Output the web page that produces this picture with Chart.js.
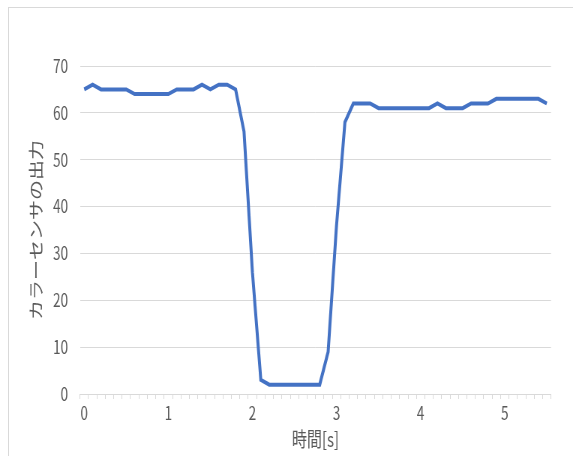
<!DOCTYPE html>
<html lang="ja">
<head>
  <meta charset="utf-8">
  <title>カラーセンサの出力</title>
  <style>
    body { margin: 0; background: #fff; overflow: hidden; }
    .frame { position: absolute; left: 8px; top: 7px; width: 700px; height: 600px; border: 1px solid #d9d9d9; }
    /* the original picture is squeezed sideways, so draw wide and squeeze */
    #chart { position: absolute; left: 0; top: 0; transform: scaleX(0.75); transform-origin: 0 0; }
  </style>
</head>
<body>
  <div class="frame"></div>
  <canvas id="chart" width="764" height="456"></canvas>

  <script src="https://cdn.jsdelivr.net/npm/chart.js"></script>
  <script>
    const times = [
      0, 0.1, 0.2, 0.3, 0.4, 0.5, 0.6, 0.7, 0.8, 0.9,
      1, 1.1, 1.2, 1.3, 1.4, 1.5, 1.6, 1.7, 1.8, 1.9,
      2, 2.1, 2.2, 2.3, 2.4, 2.5, 2.6, 2.7, 2.8, 2.9,
      3, 3.1, 3.2, 3.3, 3.4, 3.5, 3.6, 3.7, 3.8, 3.9,
      4, 4.1, 4.2, 4.3, 4.4, 4.5, 4.6, 4.7, 4.8, 4.9,
      5, 5.1, 5.2, 5.3, 5.4, 5.5
    ];
    const sensor = [
      65, 66, 65, 65, 65, 65, 64, 64, 64, 64,
      64, 65, 65, 65, 66, 65, 66, 66, 65, 56,
      26, 3, 2, 2, 2, 2, 2, 2, 2, 9,
      36, 58, 62, 62, 62, 61, 61, 61, 61, 61,
      61, 61, 62, 61, 61, 61, 62, 62, 62, 63,
      63, 63, 63, 63, 63, 62
    ];
    const yTitle = 'カラーセンサの出力';
    const xTitle = '時間[s]';

    const K = 0.75; // horizontal squeeze, see css
    const font = "'Noto Sans CJK JP', 'Noto Sans', sans-serif";
    const grey = '#595959';
    const lineGrey = '#d9d9d9';

    new Chart(document.getElementById('chart'), {
      type: 'line',
      data: {
        labels: times,
        datasets: [{
          data: sensor,
          borderColor: '#4472c4',
          borderWidth: 4,
          pointRadius: 0,
          tension: 0,
          fill: false
        }]
      },
      options: {
        responsive: false,
        animation: false,
        layout: { padding: { top: 66, right: 22 / K, left: 0, bottom: 0 } },
        plugins: { legend: { display: false }, tooltip: { enabled: false } },
        scales: {
          x: {
            type: 'category',
            offset: true,
            afterFit: (s) => { s.height = 62; },
            grid: { offset: true, drawOnChartArea: false, drawTicks: true, tickLength: 5, color: lineGrey },
            border: { display: true, color: lineGrey },
            ticks: {
              autoSkip: false,
              maxRotation: 0,
              padding: 3,
              color: grey,
              font: { family: font, size: 18 },
              callback: function (v) {
                const t = this.getLabelForValue(v);
                return Number.isInteger(t) ? String(t) : '';
              }
            },
            title: { display: true, text: xTitle, color: grey, font: { family: font, size: 20 }, padding: { top: 0, bottom: 5 } }
          },
          y: {
            min: 0,
            max: 70,
            afterFit: (s) => { s.width = 80 / K; },
            grid: { color: lineGrey, drawTicks: false },
            border: { display: false },
            ticks: { stepSize: 10, padding: 12 / K, color: grey, font: { family: font, size: 18 } },
            title: { display: true, text: yTitle, color: grey, font: { family: font, size: 20 }, padding: { top: 36, bottom: 0 } }
          }
        }
      }
    });
  </script>
</body>
</html>
